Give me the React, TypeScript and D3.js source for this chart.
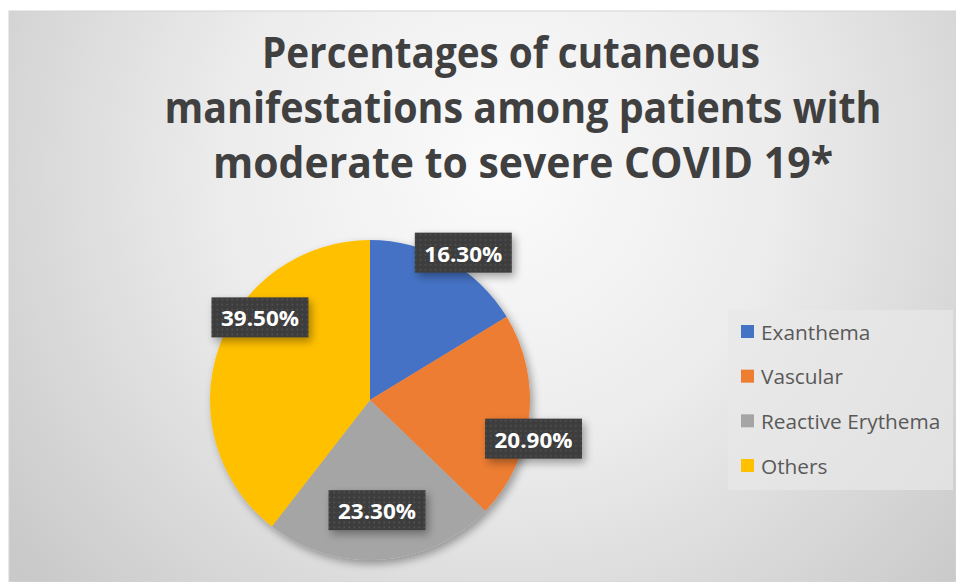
import React from 'react';
import * as d3 from 'd3';

const categories = ['Exanthema', 'Vascular', 'Reactive Erythema', 'Others'];
const values = [16.3, 20.9, 23.3, 39.5];
const labels = ['16.30%', '20.90%', '23.30%', '39.50%'];
const colors = ['#4472C4', '#ED7D31', '#A5A5A5', '#FFC000'];
const titleLines = [
  'Percentages of cutaneous',
  'manifestations among patients with',
  'moderate to severe COVID 19*',
];

// best-fit style label spots: [radius factor, angle shift in degrees]
const labelSpots: [number, number][] = [
  [1.09, 3],
  [1.05, 7],
  [0.69, 0.5],
  [0.86, 18],
];

export default function App() {
  const W = 956;
  const H = 582;
  const cx = 370;
  const cy = 400;
  const r = 160;

  const pie = d3.pie<number>().sort(null).value(d => d);
  const arcs = pie(values);
  const arc = d3.arc<d3.PieArcDatum<number>>().innerRadius(0).outerRadius(r);

  // title lines (Calibri-like widths)
  const titleCenters = [511, 523, 523];
  const titleWidths = [498, 717, 620];

  const legendY = d3.scalePoint<string>()
    .domain(categories)
    .range([332, 466]);

  return (
    <svg width={W} height={H} style={{ position: 'absolute', left: 0, top: 0 }}>
      <defs>
        <radialGradient id="bg" cx="500" cy="170" r="620" gradientUnits="userSpaceOnUse">
          <stop offset="0" stopColor="#fbfbfb" />
          <stop offset="0.45" stopColor="#ececec" />
          <stop offset="1" stopColor="#c9c9c9" />
        </radialGradient>
        <pattern id="dots" width="5" height="5" patternUnits="userSpaceOnUse">
          <rect width="5" height="5" fill="#3c3c3c" />
          <rect x="1.5" y="1.5" width="1.6" height="1.6" fill="#555" />
        </pattern>
        <filter id="shadow" x="-20%" y="-20%" width="150%" height="150%">
          <feGaussianBlur in="SourceAlpha" stdDeviation="4" />
          <feOffset dx="3" dy="4" result="b" />
          <feComponentTransfer>
            <feFuncA type="linear" slope="0.35" />
          </feComponentTransfer>
          <feMerge>
            <feMergeNode />
            <feMergeNode in="SourceGraphic" />
          </feMerge>
        </filter>
      </defs>
      <rect x={0} y={0} width={W} height={H} fill="#fff" />
      <rect x={9} y={11} width={W - 9} height={H - 11} fill="url(#bg)" stroke="#d4d4d4" />

      {titleLines.map((t, i) => (
        <text
          key={i}
          x={titleCenters[i]}
          y={68 + i * 55}
          textAnchor="middle"
          fontFamily="'Open Sans', sans-serif"
          fontWeight="bold"
          fontSize={43}
          fill="#404040"
          textLength={titleWidths[i]}
          lengthAdjust="spacingAndGlyphs"
        >
          {t}
        </text>
      ))}

      <g transform={`translate(${cx},${cy})`}>
        <g filter="url(#shadow)">
          {arcs.map((a, i) => (
            <path key={i} d={arc(a) || ''} fill={colors[i]} />
          ))}
        </g>
        {arcs.map((a, i) => {
          const [rf, shift] = labelSpots[i];
          const mid = (a.startAngle + a.endAngle) / 2 + (shift * Math.PI) / 180;
          const lx = Math.sin(mid) * r * rf;
          const ly = -Math.cos(mid) * r * rf;
          const bw = 97;
          const bh = 40;
          return (
            <g key={'l' + i} transform={`translate(${lx},${ly})`}>
              <rect x={-bw / 2} y={-bh / 2} width={bw} height={bh} fill="url(#dots)" filter="url(#shadow)" />
              <text
                x={0}
                y={9}
                textAnchor="middle"
                fontFamily="'Open Sans', sans-serif"
                fontWeight="bold"
                fontSize={22}
                fill="#fff"
                textLength={78}
                lengthAdjust="spacingAndGlyphs"
              >
                {labels[i]}
              </text>
            </g>
          );
        })}
      </g>

      <rect x={728} y={310} width={225} height={180} fill="#e8e8e8" fillOpacity={0.7} />
      {categories.map((c, i) => (
        <g key={c} transform={`translate(741,${legendY(c)})`}>
          <rect x={0} y={-7} width={13} height={13} fill={colors[i]} />
          <text
            x={20}
            y={7.5}
            fontFamily="'Open Sans', sans-serif"
            fontSize={20.8}
            fill="#595959"
          >
            {c}
          </text>
        </g>
      ))}
    </svg>
  );
}
